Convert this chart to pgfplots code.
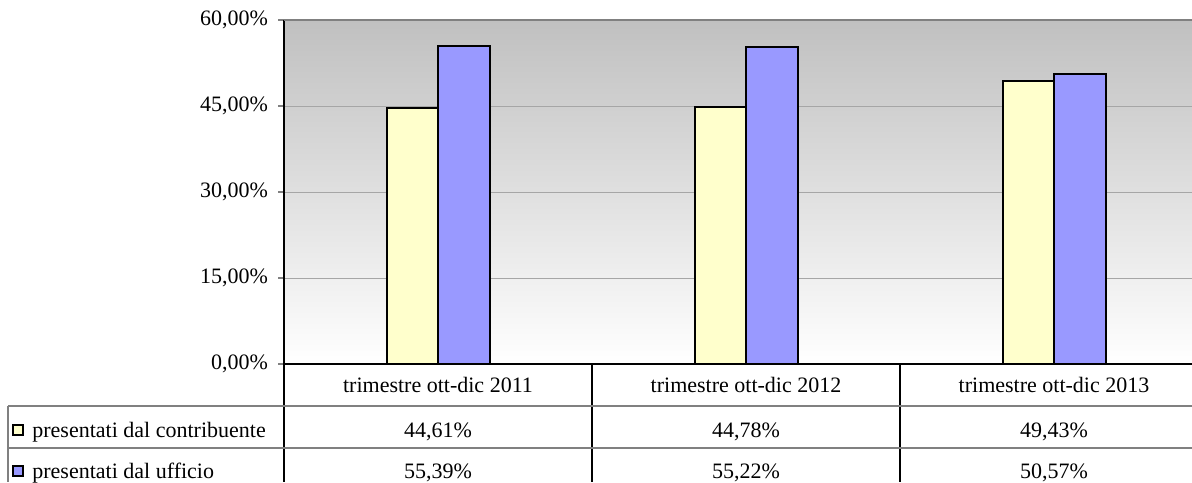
\documentclass[border=0pt]{standalone}
\usepackage{fontspec}
\setmainfont{Liberation Serif}
\usepackage{pgfplots}
\pgfplotsset{compat=1.18}

\definecolor{giallo}{HTML}{FFFFCC}
\definecolor{blu}{HTML}{9999FF}
\definecolor{sfondo}{HTML}{C0C0C0}
\definecolor{linea}{HTML}{808080}
\definecolor{griglia}{HTML}{A6A6A6}

\begin{document}
\begin{tikzpicture}[font=\fontsize{11}{13}\selectfont]
% 1 px of the reference = 0.5pt
\useasboundingbox (0,0) rectangle (596pt,241pt);
\clip (0,0) rectangle (596pt,241pt);
\begin{axis}[
  at={(142pt,59pt)}, anchor=south west,
  scale only axis, width=462pt, height=172pt,
  xmin=-0.5, xmax=2.5, ymin=0, ymax=60,
  ybar=0pt, bar width=25.75pt,
  axis x line*=bottom, axis y line*=left,
  axis line style={black, line width=0.8pt, -},
  x axis line style={line width=1pt},
  xtick={0,1,2},
  xticklabels={trimestre ott-dic 2011, trimestre ott-dic 2012, trimestre ott-dic 2013},
  major x tick style={draw=none},
  xticklabel style={anchor=base, yshift=-11pt},
  ytick={0,15,30,45,60},
  tick align=outside, major tick length=3pt,
  major y tick style={linea, line width=0.8pt},
  yticklabel style={xshift=-1.5pt},
  /pgf/number format/assume math mode=true,
  yticklabel={\pgfmathprintnumber[fixed,fixed zerofill,precision=2,use comma,assume math mode=true]{\tick}\%},
  ymajorgrids, major grid style={griglia, line width=0.5pt},
  axis background/.style={top color=sfondo, bottom color=white},
  clip=false,
]
\addplot[fill=giallo, draw=black, line width=1pt] coordinates {(0,44.61) (1,44.78) (2,49.43)};
\addplot[fill=blu, draw=black, line width=1pt] coordinates {(0,55.39) (1,55.22) (2,50.57)};
\draw[linea, line width=1pt] (axis cs:-0.5,60) -- (axis cs:2.5,60);
\end{axis}

% data table below the axis
\draw[black, line width=0.6pt] (142pt,59pt) -- (142pt,0pt)
  (296pt,59pt) -- (296pt,0pt) (450pt,59pt) -- (450pt,0pt);
\draw[linea, line width=1pt] (4pt,38pt) -- (596pt,38pt)
  (4pt,17pt) -- (596pt,17pt) (4pt,38pt) -- (4pt,0pt);

\node[draw=black, fill=giallo, line width=0.6pt, minimum size=5pt, inner sep=0pt] at (9pt,26pt) {};
\node[draw=black, fill=blu, line width=0.6pt, minimum size=5pt, inner sep=0pt] at (9pt,5.5pt) {};
\node[anchor=base west, inner sep=0pt] at (16pt,22.5pt) {presentati dal contribuente};
\node[anchor=base west, inner sep=0pt] at (16pt,2pt) {presentati dal ufficio};

\foreach \x/\a/\b in {219/{44,61}/{55,39}, 373/{44,78}/{55,22}, 527/{49,43}/{50,57}}{
  \node[anchor=base, inner sep=0pt] at (\x pt,22.5pt) {\a\%};
  \node[anchor=base, inner sep=0pt] at (\x pt,2pt) {\b\%};
}
\end{tikzpicture}
\end{document}
